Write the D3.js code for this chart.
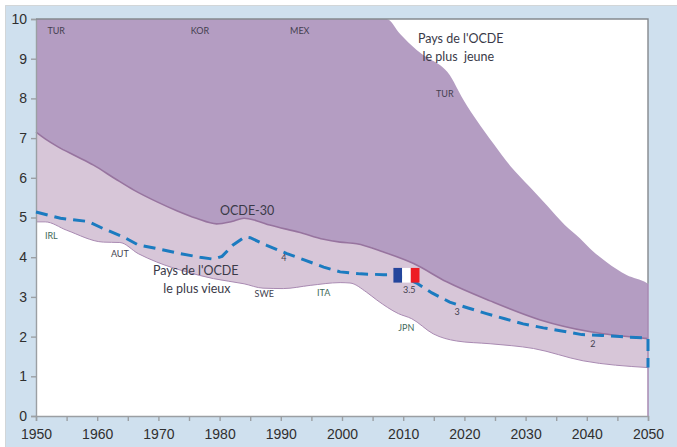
<!DOCTYPE html>
<html><head><meta charset="utf-8">
<script src="https://cdn.jsdelivr.net/npm/d3@7/dist/d3.min.js"></script>
<style>html,body{margin:0;padding:0;background:#fff}svg{display:block}</style>
</head><body><svg id="c" width="677" height="447"></svg>
<script>
const xTickYears = [1950,1960,1970,1980,1990,2000,2010,2020,2030,2040,2050];
const xMinorYears = [1955,1965,1975,1985,1995,2005,2015,2025,2035,2045];
const yTicks = [0,1,2,3,4,5,6,7,8,9,10];

const youngest = [[1950,10],[2007.3,10],[2009.5,9.62],[2012.2,9.22],[2014,9.02],[2016,8.84],[2017.6,8.59],[2019,8.2],[2020,7.92],[2022,7.45],[2024.7,6.87],[2027.5,6.3],[2030.7,5.77],[2033.5,5.3],[2036.4,4.81],[2038.9,4.47],[2041,4.15],[2043.2,3.88],[2046.5,3.55],[2049.8,3.35],[2050,3.33]];
const oecd = [[1950,7.15],[1951.5,6.98],[1953.6,6.78],[1956.5,6.55],[1959.4,6.32],[1963,5.97],[1966,5.69],[1969.7,5.4],[1973,5.17],[1976.2,4.98],[1979.5,4.84],[1982,4.9],[1984,4.98],[1986,4.92],[1988.2,4.81],[1993,4.63],[1997,4.45],[1999.7,4.38],[2002.4,4.34],[2006.8,4.13],[2011.7,3.84],[2017.1,3.38],[2024.2,2.9],[2032.4,2.42],[2040.6,2.12],[2050,1.95]];
const oldest = [[1950,4.89],[1951.5,4.89],[1955,4.68],[1961,4.38],[1963.7,4.37],[1966.7,4.09],[1969.7,3.88],[1974.6,3.63],[1979,3.46],[1984,3.33],[1987.1,3.22],[1990.4,3.21],[1994.8,3.29],[1999.7,3.36],[2001.3,3.35],[2004,3.12],[2005.7,2.92],[2009.2,2.58],[2011.4,2.45],[2014.9,2.07],[2018.7,1.89],[2024.2,1.82],[2031.3,1.7],[2039.4,1.39],[2050,1.22]];
const france = [[1950,5.14],[1954,4.98],[1958.5,4.9],[1961,4.72],[1964.3,4.51],[1966.7,4.31],[1970.3,4.2],[1973.5,4.09],[1976.8,4.0],[1979,3.95],[1980.4,4.02],[1982.2,4.31],[1984.1,4.51],[1985,4.49],[1987.7,4.3],[1991,4.09],[1993.7,3.94],[1997,3.75],[1999.7,3.63],[2003,3.58],[2006.8,3.56],[2009,3.56],[2012.2,3.35],[2014.7,3.1],[2017.6,2.87],[2020.6,2.72],[2023.6,2.58],[2026.6,2.45],[2029.6,2.32],[2032.9,2.22],[2035.9,2.14],[2039.2,2.05],[2042.5,2.03],[2045.4,2.0],[2050,1.96],[2050,1.22]];
const flagYears = [2008.4,2009.82,2011.24,2012.66];
const flagValues = [3.73,3.36];
const flagColors = ["#24459c","#ffffff","#ed1c24"];

const smallLabels = [
 ["TUR",1953.3,9.67],["KOR",1976.8,9.67],["MEX",1993.1,9.67],["TUR",2016.8,8.09],
 ["IRL",1952.5,4.51],["AUT",1963.7,4.06],["SWE",1987.3,3.05],["4",1990.5,3.95],["ITA",1997,3.07],
 ["3.5",2011,3.15],["JPN",2010.5,2.19],["3",2018.8,2.59],["2",2041,1.79]
];
const bigLabels = [
 ["Pays de l'OCDE",2019.4,9.47],["le plus  jeune",2019,9.02],["OCDE-30",1984.5,5.14],
 ["Pays de l'OCDE",1976.1,3.63],["le plus vieux",1976.3,3.17]
];
const greenLabels = ["IRL","ITA","JPN"];

const W=677,H=447;
const x=d3.scaleLinear().domain([1950,2050]).range([36,648]);
const y=d3.scaleLinear().domain([0,10]).range([416,19]);
const svg=d3.select("#c");
svg.append("rect").attr("x",5).attr("y",5).attr("width",W-5).attr("height",H-5).attr("fill","#cfe0ee");
svg.append("path").attr("d","M5.5,447V5.5H677").attr("fill","none").attr("stroke","#d2d6d8");
svg.append("rect").attr("x",x(1950)).attr("y",y(10)).attr("width",x(2050)-x(1950)).attr("height",y(0)-y(10)).attr("fill","#fff");

const px=d=>x(d[0]), py=d=>y(d[1]);
const line=d3.line().x(px).y(py).curve(d3.curveMonotoneX);
const merge=(a,b)=>line(a)+"L"+line(b.slice().reverse()).slice(1)+"Z";
svg.append("path").attr("d",merge(oecd,oldest)).attr("fill","#d7c6d8");
svg.append("path").attr("d",merge(youngest,oecd)).attr("fill","#b49dc2");
svg.append("path").attr("d",line(oldest)).attr("fill","none").attr("stroke","#a98ab2").attr("stroke-width",1);
svg.append("path").attr("d",line(oecd)).attr("fill","none").attr("stroke","#97749f").attr("stroke-width",1.6);
svg.append("line").attr("x1",x(2050)).attr("x2",x(2050)).attr("y1",y(3.33)).attr("y2",y(0)).attr("stroke","#a98ab2").attr("stroke-width",1.5);

const gx=svg.append("g").attr("transform",`translate(0,${y(0)})`)
 .call(d3.axisBottom(x).tickValues(xTickYears.concat(xMinorYears).sort(d3.ascending)).tickSizeOuter(0).tickSize(5).tickPadding(8).tickFormat(d=>xTickYears.includes(d)?d:""));
const gy=svg.append("g").attr("transform",`translate(${x(1950)},0)`)
 .call(d3.axisLeft(y).tickValues(yTicks).tickSizeOuter(0).tickSize(5).tickPadding(4));
[gx,gy].forEach(g=>{
 g.selectAll("path,line").attr("stroke","#9b9fa3").attr("stroke-width",1.4);
 g.selectAll("text").attr("font-family","'Liberation Sans',Arial,sans-serif").attr("font-size",14).attr("fill","#2f2f2f");
});
svg.append("path").attr("d",`M${x(1950)},${y(10)}H${x(2050)}V${y(3.33)}`).attr("fill","none").attr("stroke","#85898e").attr("stroke-width",1.4);

svg.append("path").attr("d",d3.line().x(px).y(py)(france)).attr("fill","none").attr("stroke","#1b7bc0").attr("stroke-width",3).attr("stroke-dasharray","12,7");

svg.append("g").selectAll("rect").data(flagColors).join("rect")
 .attr("x",(d,i)=>x(flagYears[i])).attr("width",(d,i)=>x(flagYears[i+1])-x(flagYears[i]))
 .attr("y",y(flagValues[0])).attr("height",y(flagValues[1])-y(flagValues[0])).attr("fill",d=>d);

const txt=(data,size,col)=>svg.append("g").selectAll("text").data(data).join("text")
 .attr("x",d=>x(d[1])).attr("y",d=>y(d[2])).attr("text-anchor","middle").attr("dominant-baseline","middle")
 .attr("font-family","Lato,'Open Sans',sans-serif").attr("font-size",size).attr("xml:space","preserve").style("white-space","pre").attr("fill",col).text(d=>d[0]);
txt(smallLabels,9,d=>greenLabels.includes(d[0])?"#3f6a5a":"#443f50");
txt(bigLabels,12.5,"#3a3a48");
</script></body></html>
